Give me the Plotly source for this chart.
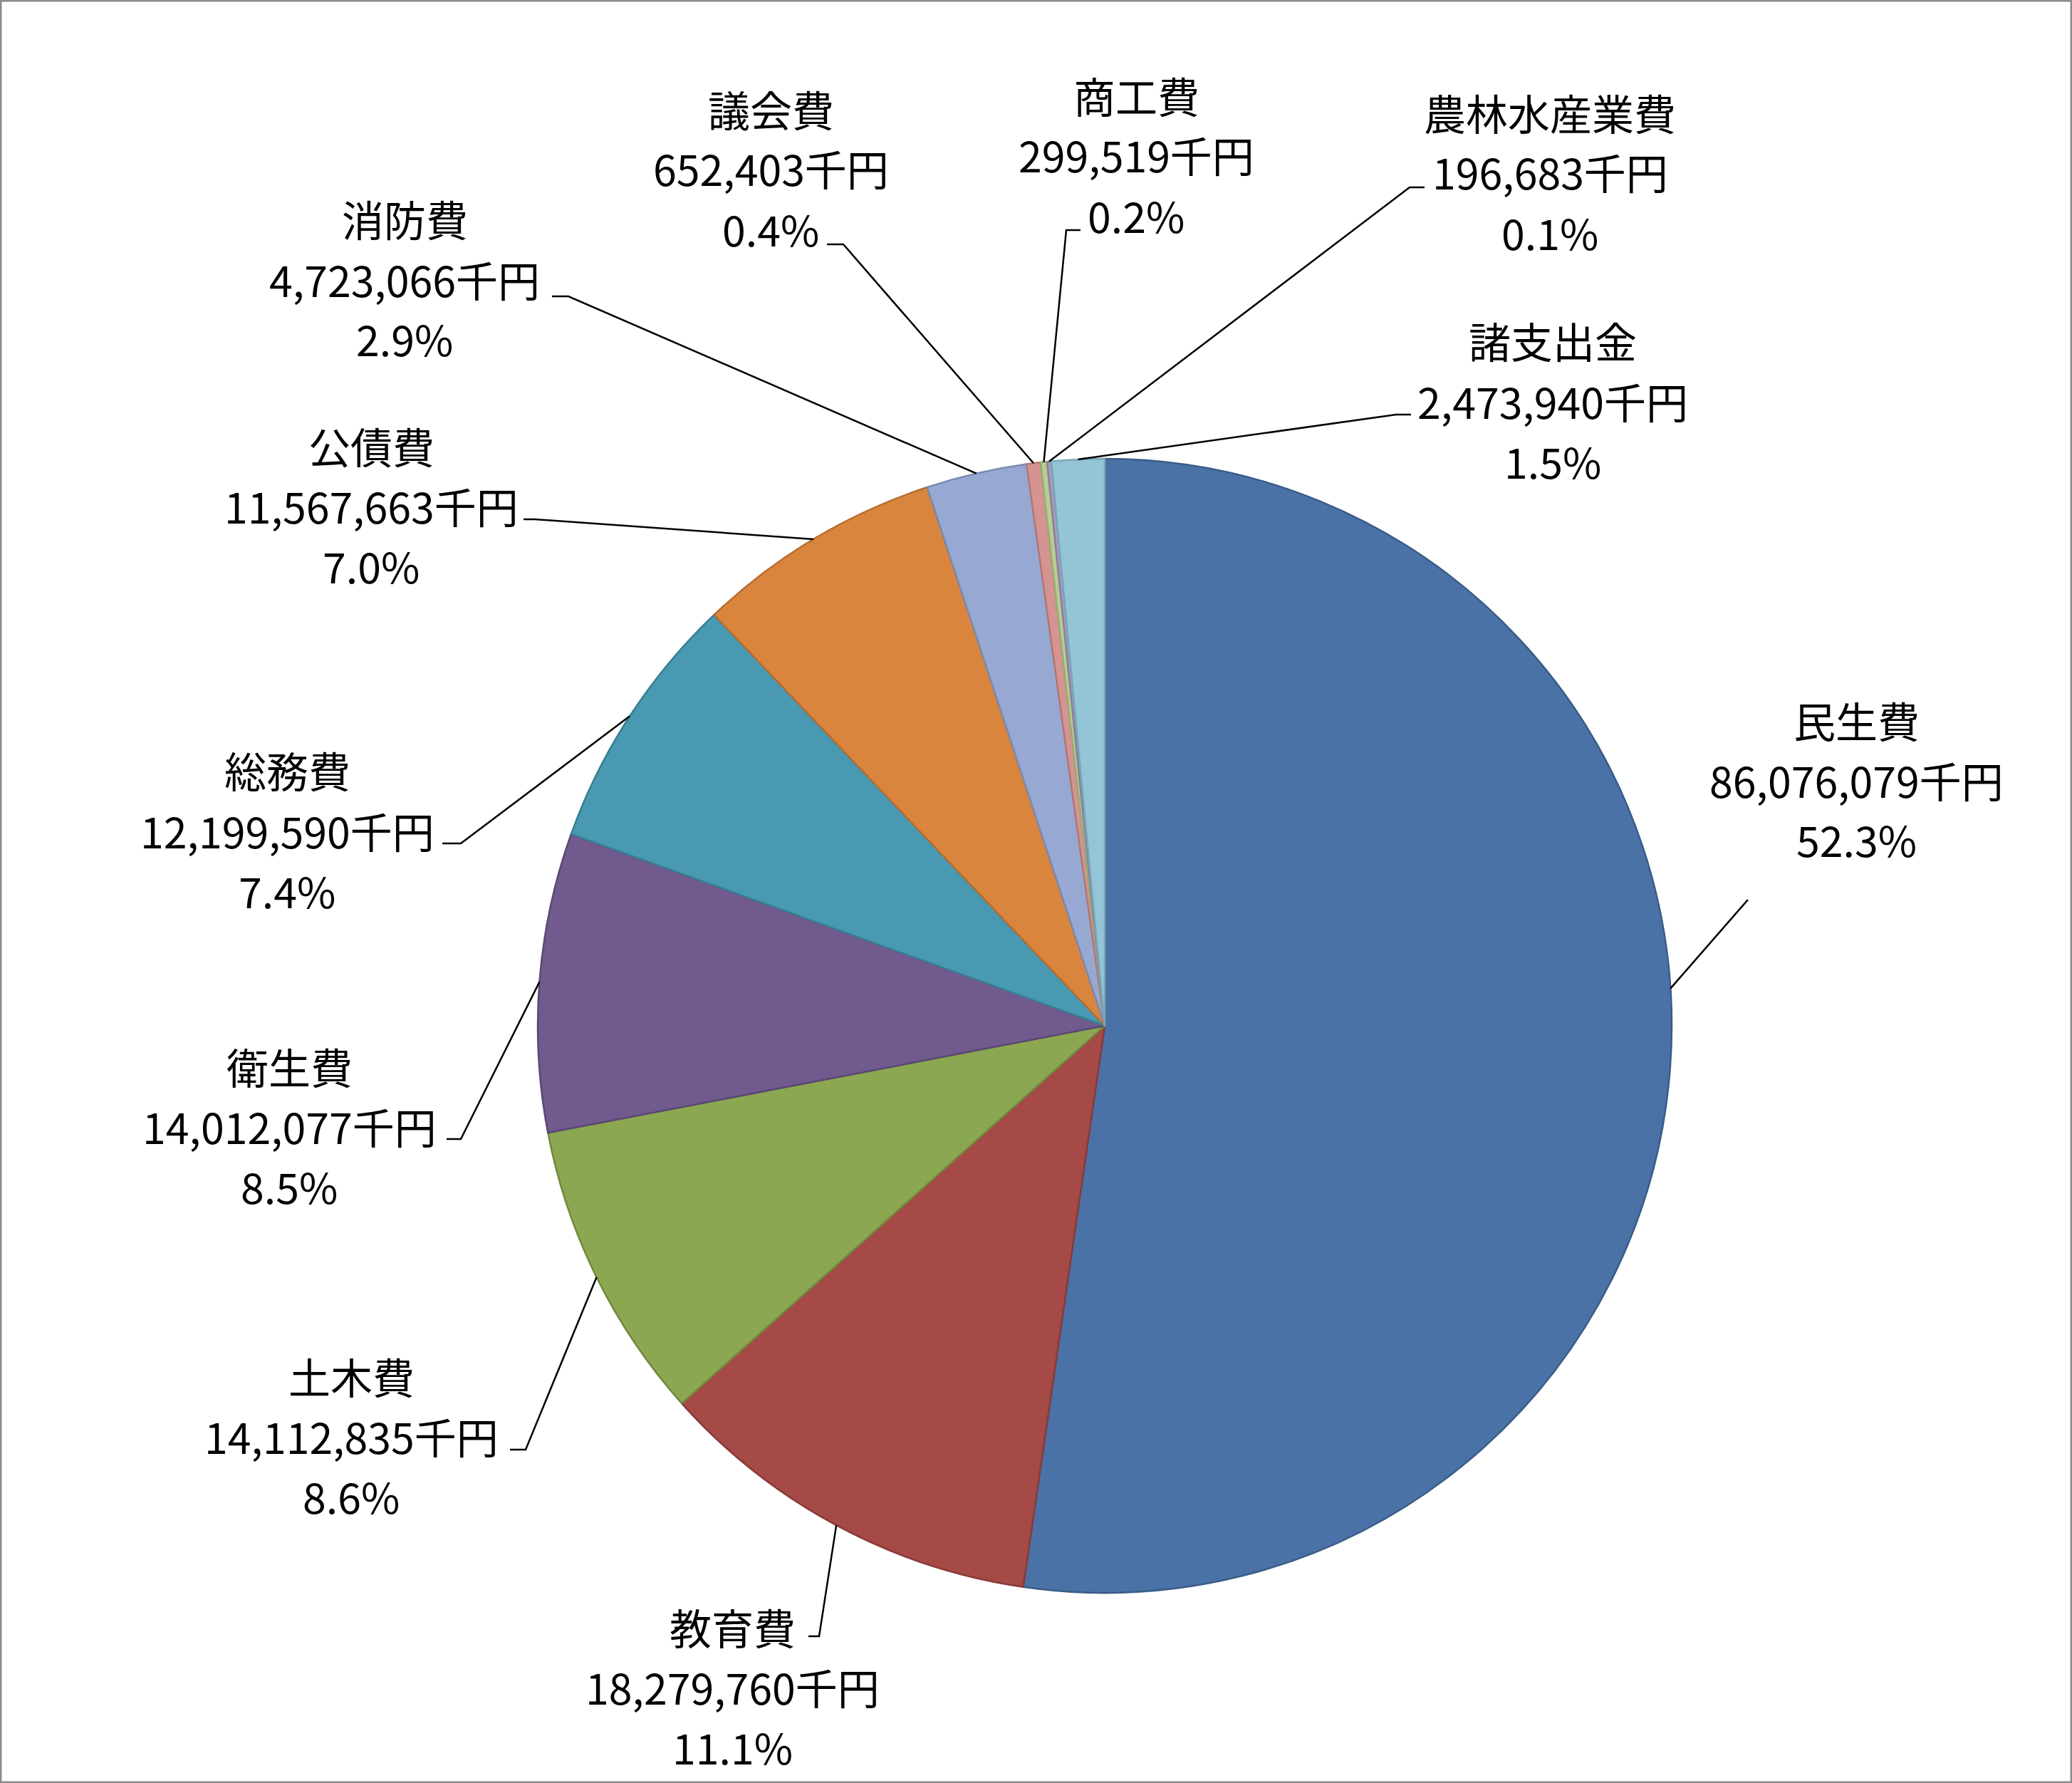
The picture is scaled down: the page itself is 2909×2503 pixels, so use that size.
import math
import plotly.graph_objects as go

W, H = 2909, 2503

# data
categories = ["民生費", "教育費", "土木費", "衛生費", "総務費", "公債費",
              "消防費", "議会費", "商工費", "農林水産業費", "諸支出金"]
amounts = [86076079, 18279760, 14112835, 14012077, 12199590, 11567663,
           4723066, 652403, 299519, 196683, 2473940]

fill_colors = ["#4A72A6", "#A54A47", "#8BA751", "#705A8E", "#4899B1", "#D9853E",
               "#97A9D2", "#D59492", "#B8CD92", "#A99BBF", "#94C5D7"]
edge_colors = ["#3A5C88", "#8A3A38", "#71893F", "#5A4874", "#387E92", "#B86C2E",
               "#7A8BB2", "#B47775", "#98AD74", "#8A7E9F", "#78A7B8"]

# layout (pixels): pie centre/radius, label centre, leader elbow and tick end
CX, CY, R = 1551, 1440, 796
label_xy = [(2606, 1094), (1028, 2367), (493, 2015), (406, 1580), (403, 1165),
            (521, 709), (568, 391), (1082, 236), (1595, 217), (2176, 241), (2180, 562)]
elbow_xy = [(2454, 1263), (1150, 2297), (738, 2035), (647, 1599), (647, 1184),
            (751, 729), (798, 416), (1184, 343), (1497, 323), (1979, 263), (1960, 582)]
tick_xy = [(2454, 1263), (1135, 2297), (716, 2035), (627, 1599), (621, 1184),
           (735, 729), (775, 416), (1161, 343), (1517, 323), (2000, 263), (1981, 582)]
leader_frac = [0.458, 0.5, 0.5, 0.5, 0.5, 0.5, 0.5, 0.5, 0.5, 0.5, 0.5]
LINE_GAP = 84
FONT = "Noto Sans CJK JP"
FONT_SIZE = 59


def px(x):
    return x / W


def py(y):
    return 1 - y / H


total = sum(amounts)

fig = go.Figure(go.Pie(
    labels=categories, values=amounts, sort=False, direction="clockwise",
    rotation=0, textinfo="none", hoverinfo="label+value+percent",
    marker=dict(colors=fill_colors, line=dict(color=edge_colors, width=2.5)),
    domain=dict(x=[px(CX - R), px(CX + R)], y=[py(CY + R), py(CY - R)]),
    showlegend=False,
))

shapes = []
annotations = []
cum = 0
for i, (name, val) in enumerate(zip(categories, amounts)):
    frac = val / total
    ang = 2 * math.pi * (cum + frac * leader_frac[i])
    cum += frac
    sx = CX + R * math.sin(ang)
    sy = CY - R * math.cos(ang)
    ex, ey = elbow_xy[i]
    tx, ty = tick_xy[i]
    shapes.append(dict(
        type="path", xref="paper", yref="paper",
        path=f"M {px(sx)},{py(sy)} L {px(ex)},{py(ey)} L {px(tx)},{py(ty)}",
        line=dict(color="black", width=2.5),
    ))
    lx, ly = label_xy[i]
    lines = [name, f"{val:,}千円", f"{frac * 100:.1f}%"]
    for k, t in enumerate(lines):
        annotations.append(dict(
            x=px(lx), y=py(ly + (k - 1) * LINE_GAP), xref="paper", yref="paper",
            text=t, showarrow=False, xanchor="center", yanchor="middle",
            font=dict(family=FONT, size=FONT_SIZE, color="black"),
        ))

shapes.append(dict(type="rect", xref="paper", yref="paper", x0=0, y0=0, x1=1, y1=1,
                   line=dict(color="#8C8C8C", width=5)))

fig.update_layout(
    width=W, height=H, margin=dict(l=0, r=0, t=0, b=0),
    paper_bgcolor="white", plot_bgcolor="white",
    shapes=shapes, annotations=annotations,
)
fig.write_html("out.html", config={"displayModeBar": False},
               post_script="document.body.style.margin = '0';")
